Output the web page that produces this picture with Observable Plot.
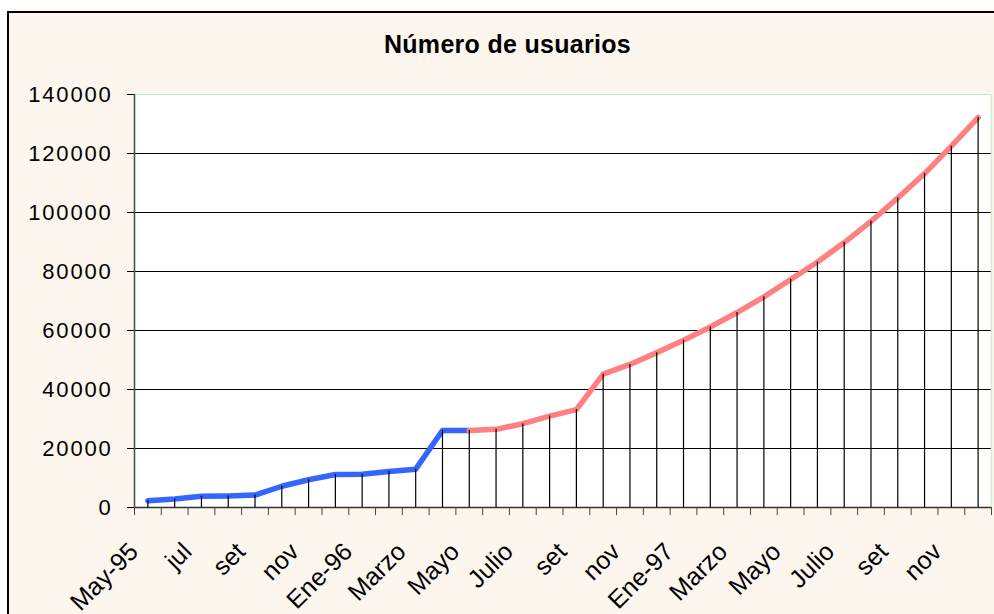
<!DOCTYPE html>
<html>
<head>
<meta charset="utf-8">
<script src="https://cdn.jsdelivr.net/npm/d3@7"></script>
<script src="https://cdn.jsdelivr.net/npm/@observablehq/plot@0.6"></script>
<style>
  html, body { margin: 0; padding: 0; background: #ffffff; }
  body { width: 994px; height: 614px; position: relative; overflow: hidden; font-family: "Liberation Sans", Arial, sans-serif; }
  #frame { position: absolute; left: 7px; top: 11px; width: 995px; height: 610px; border-left: 2px solid #000; border-top: 2px solid #000; background: #FDF6EE; box-sizing: border-box; }
  #title { position: absolute; left: 0; width: 1015px; top: 30px; text-align: center; font-weight: bold; font-size: 25px; letter-spacing: 0.3px; color: #000; }
  #chart { position: absolute; left: 0; top: 0; }
  #chart svg { background: transparent !important; overflow: visible; }
  #chart svg g[aria-label="y-axis tick label"] text { letter-spacing: 1.8px; }
</style>
</head>
<body>
<div id="frame"></div>
<div id="title">Número de usuarios</div>
<div id="chart"></div>
<script>
// Categories (months May-95 .. Dic-97)
const categorias = ["May-95","jun","jul","ago","set","oct","nov","dic","Ene-96","Feb","Marzo","Abril",
                    "Mayo","Junio","Julio","Agosto","set","oct","nov","dic","Ene-97","Feb","Marzo","Abril",
                    "Mayo","Junio","Julio","Agosto","set","oct","nov","dic"];
// Real users (blue), indices 0..12
const usuariosReales = [2300, 2900, 3800, 3900, 4200, 7200, 9400, 11200, 11300, 12200, 13000, 26100, 26100];
// Projection (red), indices 12..31
const usuariosProyectados = [26100, 26500, 28400, 31000, 33200, 45200, 48500, 52500, 56700, 61200, 66100,
                             71400, 77300, 83200, 89800, 97000, 104900, 113200, 122500, 132200];
const inicioProyeccion = 12;
// Y tick values
const yTicks = [0, 20000, 40000, 60000, 80000, 100000, 120000, 140000];
// X labelled indices (every other month)
const xLabelIdx = [0, 2, 4, 6, 8, 10, 12, 14, 16, 18, 20, 22, 24, 26, 28, 30];

const reales = usuariosReales.map((v, i) => ({i, v}));
const proyectados = usuariosProyectados.map((v, k) => ({i: k + inicioProyeccion, v}));
const todos = categorias.map((c, i) => ({i, v: i < inicioProyeccion ? usuariosReales[i] : usuariosProyectados[i - inicioProyeccion]}));
const boundaries = d3.range(-0.5, categorias.length, 1);

const chart = Plot.plot({
  width: 994,
  height: 614,
  marginLeft: 134,
  marginRight: 3,
  marginTop: 94,
  marginBottom: 107,
  style: {fontFamily: "'Liberation Sans', Arial, sans-serif", background: "transparent", color: "#000"},
  x: {type: "linear", domain: [-0.5, categorias.length - 0.5], label: null},
  y: {domain: [0, 140000], label: null},
  marks: [
    Plot.frame({fill: "white", stroke: null}),
    Plot.ruleY(yTicks.filter(t => t > 0 && t < 140000), {stroke: "#000", strokeWidth: 1.1}),
    Plot.ruleY([140000], {stroke: "#BDEFBD", strokeWidth: 1.2}),
    Plot.ruleX([categorias.length - 0.5], {stroke: "#CDF3CD", strokeWidth: 1.5}),
    Plot.ruleY([0], {stroke: "#333", strokeWidth: 1.3}),
    Plot.ruleX([-0.5], {stroke: "#46584a", strokeWidth: 1.6}),
    Plot.axisY({ticks: yTicks, label: null, tickSize: 7, tickPadding: 15, tickFormat: d => String(d), fontSize: 22, stroke: "#000"}),
    Plot.axisX({ticks: boundaries, label: null, tickSize: 8, tickFormat: () => "", stroke: "#444"}),
    Plot.axisX({ticks: xLabelIdx, label: null, tickSize: 0, tickPadding: 16, tickRotate: -45, tickFormat: i => categorias[i], fontSize: 25, dx: -14, dy: 24, style: {letterSpacing: "1.5px"}}),
    Plot.line(reales, {x: "i", y: "v", stroke: "#3366FF", strokeWidth: 5.5, strokeLinecap: "round", strokeLinejoin: "round"}),
    Plot.line(proyectados, {x: "i", y: "v", stroke: "#FF8080", strokeWidth: 5.5, strokeLinecap: "round", strokeLinejoin: "round"}),
    Plot.ruleX(todos, {x: "i", y1: 0, y2: "v", stroke: "#000", strokeWidth: 1.2})
  ]
});
document.getElementById("chart").appendChild(chart);
</script>
</body>
</html>
